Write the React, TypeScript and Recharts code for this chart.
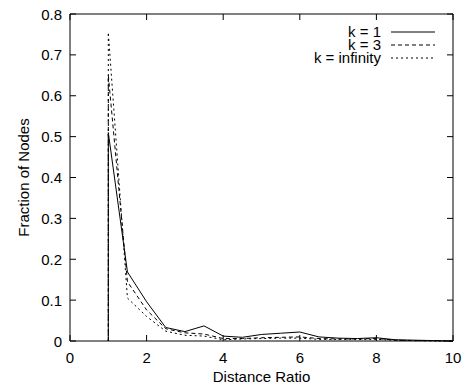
import React from "react";
import { LineChart, Line, XAxis, YAxis, ReferenceLine } from "recharts";

const ratio = [1, 1, 1.5, 2, 2.5, 3, 3.5, 4, 4.5, 5, 5.5, 6, 6.5, 7, 7.5, 8, 8.5, 9, 9.5, 10];
const k1 = [0, 0.51, 0.169, 0.096, 0.033, 0.023, 0.037, 0.012, 0.009, 0.016, 0.019, 0.022, 0.01, 0.007, 0.006, 0.008, 0.003, 0.002, 0.001, 0];
const k3 = [0, 0.65, 0.145, 0.076, 0.03, 0.02, 0.017, 0.006, 0.006, 0.008, 0.009, 0.01, 0.006, 0.005, 0.005, 0.006, 0.002, 0.001, 0.001, 0];
const kInf = [0, 0.755, 0.105, 0.06, 0.024, 0.014, 0.012, 0.003, 0.005, 0.006, 0.007, 0.007, 0.004, 0.004, 0.004, 0.004, 0.002, 0.001, 0, 0];

const xTicks = [0, 2, 4, 6, 8, 10];
const yTicks = [0, 0.1, 0.2, 0.3, 0.4, 0.5, 0.6, 0.7, 0.8];

const series = [
  { key: "k1", name: "k = 1", dash: undefined as string | undefined },
  { key: "k3", name: "k = 3", dash: "4 3" },
  { key: "kInf", name: "k = infinity", dash: "2 3" },
];

const data = ratio.map((r, i) => ({ r, k1: k1[i], k3: k3[i], kInf: kInf[i] }));

const FONT = "'Liberation Sans', Arial, sans-serif";
const FS = 15;
const TICK = 6;
const W = 462;
const H = 388;
const M = { top: 14, right: 9, left: 0, bottom: 0 };
const Y_W = 70;
const X_H = 47;
const X_MAX = 10;
const Y_MAX = 0.8;
const PLOT_W = W - M.right - M.left - Y_W;
const PLOT_H = H - M.top - M.bottom - X_H;

function BottomTick({ x, y, payload }: any) {
  return (
    <text x={x} y={y + 22} textAnchor="middle" fontSize={FS} fontFamily={FONT} fill="#000">
      {payload.value}
    </text>
  );
}

function LeftTick({ x, y, payload }: any) {
  return (
    <text x={x - 8} y={y + 5.5} textAnchor="end" fontSize={FS} fontFamily={FONT} fill="#000">
      {payload.value === 0 ? "0" : payload.value.toFixed(1)}
    </text>
  );
}

// inward tick marks on all four sides of the frame (gnuplot style)
function TickMarks() {
  const left = M.left + Y_W;
  const right = left + PLOT_W;
  const top = M.top;
  const bottom = top + PLOT_H;
  const px = (t: number) => left + (t / X_MAX) * PLOT_W;
  const py = (t: number) => bottom - (t / Y_MAX) * PLOT_H;
  let d = "";
  xTicks.forEach((t) => {
    const x = px(t);
    d += `M${x},${bottom}V${bottom - TICK}M${x},${top}V${top + TICK}`;
  });
  yTicks.forEach((t) => {
    const y = py(t);
    d += `M${left},${y}H${left + TICK}M${right},${y}H${right - TICK}`;
  });
  return (
    <svg width={W} height={H} style={{ position: "absolute", left: 0, top: 0, pointerEvents: "none" }}>
      <path d={d} stroke="#000" strokeWidth={1} fill="none" />
    </svg>
  );
}

function KeyBox() {
  return (
    <svg width={200} height={50} style={{ position: "absolute", left: 250, top: 21 }}>
      {series.map((s, i) => (
        <g key={s.key}>
          <text x={131} y={16 + i * 13} textAnchor="end" fontSize={FS} fontFamily={FONT} fill="#000">
            {s.name}
          </text>
          <line x1={141} x2={185} y1={11 + i * 13} y2={11 + i * 13} stroke="#000" strokeDasharray={s.dash} />
        </g>
      ))}
    </svg>
  );
}

export default function App() {
  return (
    <div style={{ position: "absolute", left: 0, top: 0, width: W, height: H, background: "#fff" }}>
      <LineChart width={W} height={H} data={data} margin={M}>
        <XAxis
          dataKey="r"
          type="number"
          domain={[0, X_MAX]}
          ticks={xTicks}
          tickLine={false}
          tickSize={0}
          tickMargin={0}
          tick={<BottomTick />}
          height={X_H}
          stroke="#000"
          label={{ value: "Distance Ratio", position: "insideBottom", offset: 6, fontSize: FS, fontFamily: FONT, fill: "#000" }}
        />
        <YAxis
          type="number"
          domain={[0, Y_MAX]}
          ticks={yTicks}
          tickLine={false}
          tickSize={0}
          tickMargin={0}
          tick={<LeftTick />}
          width={Y_W}
          stroke="#000"
          label={{ value: "Fraction of Nodes", angle: -90, position: "insideLeft", offset: 24, fontSize: FS, fontFamily: FONT, fill: "#000", style: { textAnchor: "middle" } }}
        />
        <ReferenceLine x={X_MAX} stroke="#000" strokeOpacity={1} />
        <ReferenceLine y={Y_MAX} stroke="#000" strokeOpacity={1} />
        {series.map((s) => (
          <Line
            key={s.key}
            dataKey={s.key}
            name={s.name}
            type="linear"
            stroke="#000"
            strokeWidth={1}
            strokeDasharray={s.dash}
            dot={false}
            activeDot={false}
            isAnimationActive={false}
          />
        ))}
      </LineChart>
      <TickMarks />
      <KeyBox />
    </div>
  );
}
